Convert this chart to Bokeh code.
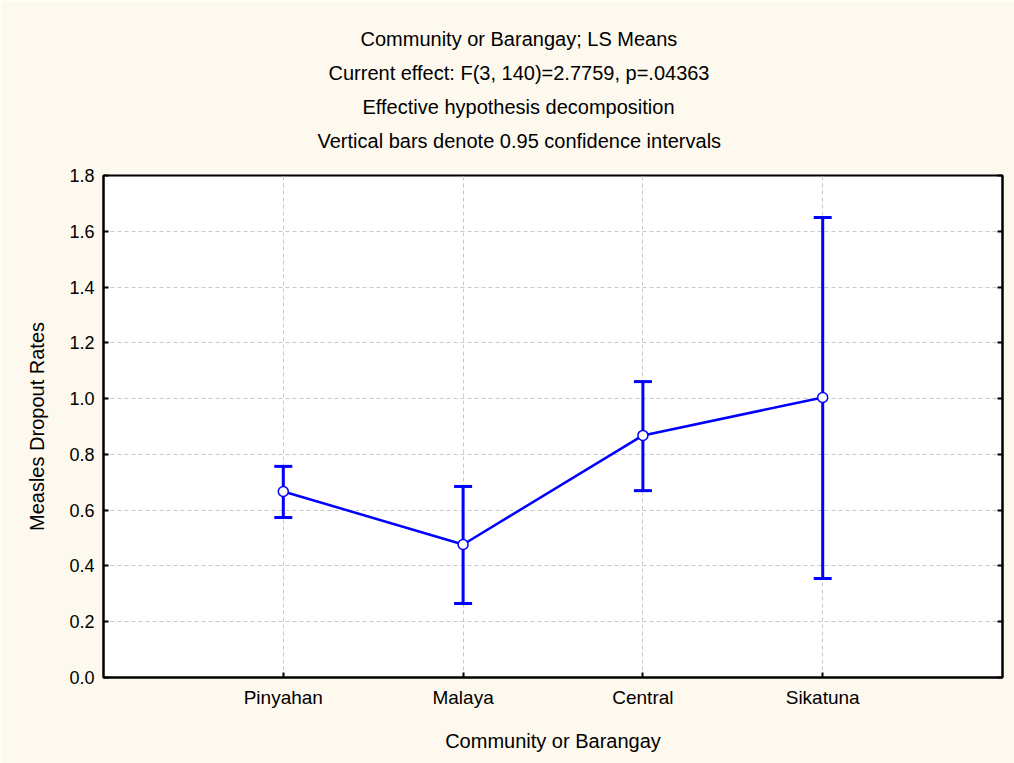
from bokeh.plotting import figure
from bokeh.models import (Range1d, FixedTicker, LinearAxis, Whisker, TeeHead,
                          ColumnDataSource, Title, NumeralTickFormatter)
from bokeh.embed import file_html
from bokeh.resources import INLINE

categories = ["Pinyahan", "Malaya", "Central", "Sikatuna"]
positions = [1, 2, 3, 4]
means = [0.667, 0.477, 0.868, 1.004]
upper = [0.757, 0.685, 1.061, 1.649]
lower = [0.574, 0.265, 0.670, 0.355]
y_ticks = [0.0, 0.2, 0.4, 0.6, 0.8, 1.0, 1.2, 1.4, 1.6, 1.8]
title_lines = ["Community or Barangay; LS Means",
               "Current effect: F(3, 140)=2.7759, p=.04363",
               "Effective hypothesis decomposition",
               "Vertical bars denote 0.95 confidence intervals"]
# left offsets (px from frame's left edge) so each line is centred at x~518
title_offsets = [257, 225, 259, 214]

BG = "#FDF9EE"
BLUE = "#0000FF"
SANS = "Liberation Sans"

src = ColumnDataSource(dict(x=positions, m=means, up=upper, lo=lower))

p = figure(width=1014, height=763, output_backend="svg", toolbar_location=None,
           x_range=Range1d(0, 5), y_range=Range1d(0, 1.8),
           background_fill_color="white", border_fill_color=BG,
           min_border_left=103, min_border_right=12, min_border_top=175,
           min_border_bottom=86, outline_line_color="black", outline_line_width=2)

# spacer between the title block and the frame
p.add_layout(Title(text=" ", text_font_size="5px", standoff=11), "above")
# titles (added inner first)
for t, off in zip(reversed(title_lines), reversed(title_offsets)):
    p.add_layout(Title(text=t, align="left", offset=off, text_font=SANS,
                       text_font_size="20px", text_font_style="normal",
                       text_color="black", standoff=10), "above")

p.xaxis.ticker = FixedTicker(ticks=positions)
p.xaxis.major_label_overrides = {pos: c for pos, c in zip(positions, categories)}
p.yaxis.ticker = FixedTicker(ticks=y_ticks)
p.yaxis.formatter = NumeralTickFormatter(format="0.0")

for ax in (p.xaxis[0], p.yaxis[0]):
    ax.axis_line_width = 2
    ax.axis_line_color = "black"
    ax.major_tick_in = 5
    ax.major_tick_out = 0
    ax.major_tick_line_color = "black"
    ax.major_tick_line_width = 2
    ax.minor_tick_line_color = None
    ax.major_label_text_color = "black"
    ax.axis_label_text_color = "black"
    ax.axis_label_text_font_style = "normal"

p.xaxis.axis_label = "Community or Barangay"
p.xaxis.major_label_text_font = SANS
p.xaxis.major_label_text_font_size = "19px"
p.xaxis.axis_label_text_font = SANS
p.xaxis.axis_label_text_font_size = "20px"
p.xaxis.major_label_standoff = 9
p.xaxis.axis_label_standoff = 19

p.yaxis.axis_label = "Measles Dropout Rates"
p.yaxis.major_label_text_font = SANS
p.yaxis.major_label_text_font_size = "18px"
p.yaxis.axis_label_text_font = SANS
p.yaxis.axis_label_text_font_size = "20px"
p.yaxis.major_label_standoff = 9
p.yaxis.axis_label_standoff = 18

right = LinearAxis(ticker=FixedTicker(ticks=y_ticks), major_label_text_font_size="0px",
                   axis_line_width=2, major_tick_in=5, major_tick_out=0,
                   major_tick_line_width=2, minor_tick_line_color=None,
                   major_label_standoff=0)
p.add_layout(right, "right")

p.xgrid.grid_line_color = "#C8C8C8"
p.xgrid.grid_line_dash = "4 3"
p.ygrid.grid_line_color = "#C8C8C8"
p.ygrid.grid_line_dash = "4 3"

p.add_layout(Whisker(source=src, base="x", upper="up", lower="lo",
                     line_color=BLUE, line_width=3,
                     upper_head=TeeHead(size=18, line_color=BLUE, line_width=3),
                     lower_head=TeeHead(size=18, line_color=BLUE, line_width=3)))
p.line("x", "m", source=src, line_color=BLUE, line_width=2.5)
p.scatter("x", "m", source=src, size=10, fill_color="white", line_color=BLUE, line_width=1.5)

open("out.html", "w").write(file_html(p, INLINE))
